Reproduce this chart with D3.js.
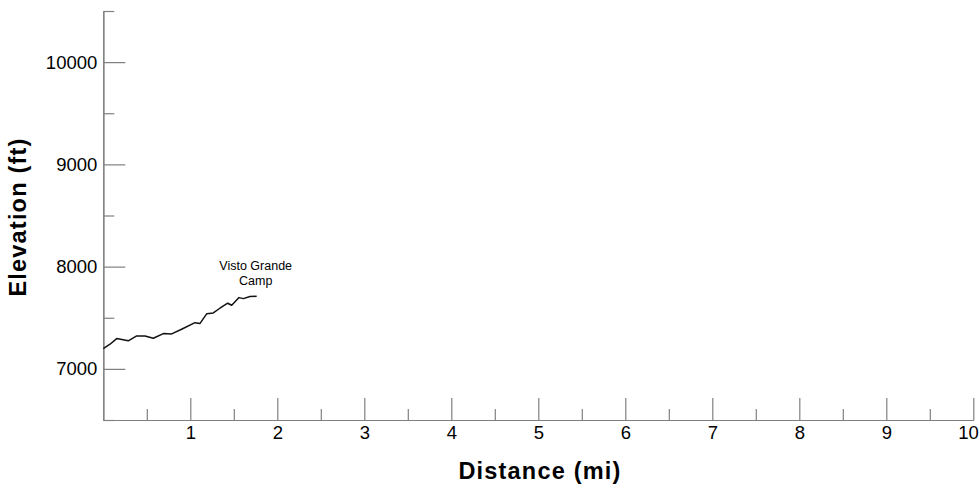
<!DOCTYPE html>
<html>
<head>
<meta charset="utf-8">
<script src="https://cdn.jsdelivr.net/npm/d3@7"></script>
<style>
  html, body { margin: 0; padding: 0; background: #fff; }
  svg { display: block; font-family: "Liberation Sans", Arial, sans-serif; }
</style>
</head>
<body>
<div id="chart"></div>
<script>
// trail profile
const distance = [0, 0.077, 0.154, 0.287, 0.384, 0.479, 0.575, 0.69, 0.786, 0.90, 1.054, 1.11, 1.19, 1.264, 1.34, 1.43, 1.476, 1.56, 1.61, 1.686, 1.763];
const elevation = [7198, 7241, 7296, 7274, 7322, 7322, 7300, 7345, 7342, 7388, 7452, 7443, 7540, 7547, 7593, 7642, 7622, 7697, 7687, 7707, 7710];

const xMajor = [1, 2, 3, 4, 5, 6, 7, 8, 9, 10];
const xMinor = [0.5, 1.5, 2.5, 3.5, 4.5, 5.5, 6.5, 7.5, 8.5, 9.5];
const yMajor = [7000, 8000, 9000, 10000];
const yMinor = [6500, 7500, 8500, 9500, 10500];

const campLabel = ['Visto Grande', 'Camp'];

const W = 980, H = 490;
const m = { top: 11, right: 6.7, bottom: 70, left: 103.3 };
const iW = W - m.left - m.right, iH = H - m.top - m.bottom;
const AXIS = '#808080';

const svg = d3.select('#chart').append('svg').attr('width', W).attr('height', H);
const g = svg.append('g').attr('transform', `translate(${m.left},${m.top})`);

const x = d3.scaleLinear().domain([0, 10]).range([0, iW]);
const y = d3.scaleLinear().domain([6500, 10500]).range([iH, 0]);

function styleAxis(sel) {
  sel.select('.domain').attr('stroke', AXIS).attr('stroke-width', 1.2);
  sel.selectAll('.tick line').attr('stroke', AXIS).attr('stroke-width', 1.2);
  sel.selectAll('.tick text').attr('fill', '#000').attr('font-size', 18.5)
    .attr('font-family', '"Liberation Sans", Arial, sans-serif');
}

// y axis: ticks point into the plot
g.append('g')
  .call(d3.axisLeft(y).tickValues(yMinor).tickSizeInner(-11).tickSizeOuter(0).tickFormat(''))
  .call(styleAxis);
g.append('g')
  .call(d3.axisLeft(y).tickValues(yMajor).tickSizeInner(-22).tickSizeOuter(0).tickPadding(6).tickFormat(d3.format('d')))
  .call(styleAxis);

// x axis: ticks point up
g.append('g').attr('transform', `translate(0,${iH})`)
  .call(d3.axisBottom(x).tickValues(xMinor).tickSizeInner(-11).tickSizeOuter(0).tickFormat(''))
  .call(styleAxis);
const xa = g.append('g').attr('transform', `translate(0,${iH})`)
  .call(d3.axisBottom(x).tickValues(xMajor).tickSizeInner(-22).tickSizeOuter(0).tickPadding(6).tickFormat(d3.format('d')))
  .call(styleAxis);
xa.selectAll('.tick text').attr('y', 6).attr('dy', '0.71em');
// last label pulled in so it stays on the page
xa.selectAll('.tick text').filter(d => d === xMajor[xMajor.length - 1])
  .attr('text-anchor', 'end').attr('x', 5);

// profile line
const pts = distance.map((d, i) => [d, elevation[i]]);
g.append('path').datum(pts)
  .attr('d', d3.line().x(d => x(d[0])).y(d => y(d[1])))
  .attr('fill', 'none').attr('stroke', '#111').attr('stroke-width', 1.5)
  .attr('stroke-linejoin', 'round');

// camp annotation at the end of the line
const last = pts[pts.length - 1];
const lab = g.append('text')
  .attr('x', x(last[0])).attr('y', y(last[1]) - 26)
  .attr('text-anchor', 'middle').attr('font-size', 12.5).attr('fill', '#000');
campLabel.forEach((t, i) => {
  lab.append('tspan').attr('x', x(last[0]) - 1).attr('dy', i === 0 ? 0 : 15).text(t);
});

// axis titles
svg.append('text')
  .attr('x', 540).attr('y', 479)
  .attr('text-anchor', 'middle').attr('font-size', 23.5).attr('font-weight', 'bold')
  .attr('letter-spacing', 1.2)
  .text('Distance (mi)');
svg.append('text')
  .attr('transform', `translate(25.5,217) rotate(-90)`)
  .attr('text-anchor', 'middle').attr('font-size', 23.5).attr('font-weight', 'bold')
  .attr('letter-spacing', 1.2)
  .text('Elevation (ft)');
</script>
</body>
</html>
